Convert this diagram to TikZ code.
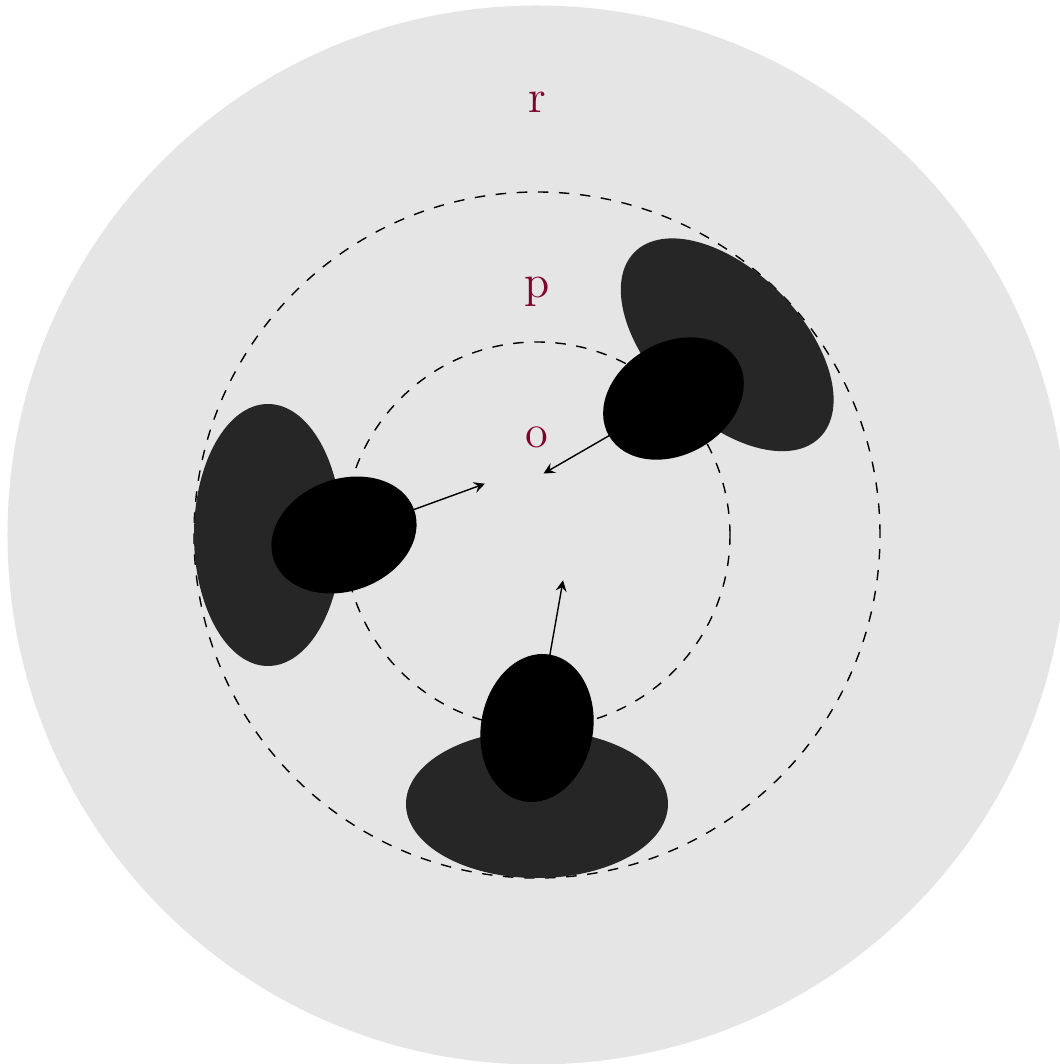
\documentclass[tikz,border=0pt]{standalone}
\usetikzlibrary{calc}
\definecolor{labelred}{RGB}{128,0,42}
\tikzset{
  orbit/.style={dashed},
  orbitlabel/.style={text=labelred, font=\fontsize{13.2}{16}\selectfont},
  outerblob/.style={fill=black!85},
  innerblob/.style={fill=black},
}
\begin{document}
\begin{tikzpicture}[x=0.01cm,y=0.01cm]
        \useasboundingbox (-537,-529) rectangle (522,535);

        % Draw background disc
        \fill[black!10] (0,0) circle (529.5);

        % Draw orbits
        \draw[orbit] (0,0) circle (343);
        \draw[orbit] (0,0) circle (193);

        % Draw labels
        \node[orbitlabel] (r) at (0,433) {r};
        \node[orbitlabel] (p) at (0,243) {p};
        \node[orbitlabel] (o) at (0,98) {o};

        % Draw the three arms
        \foreach \a/\t in {180/20, 270/80, 45/210} {
            \coordinate (c\a) at (\a:193);
            \coordinate (t\a) at ($(c\a)+(\t:150)$);
            \draw[-stealth] (c\a) -- (t\a);
            \path[outerblob, shift={(\a:269)}, rotate=\a] (0,0) ellipse (74 and 131);
            \path[innerblob, shift={(c\a)}, rotate=\t] (0,0) ellipse (74.5 and 56);
        }
    \end{tikzpicture}
\end{document}
